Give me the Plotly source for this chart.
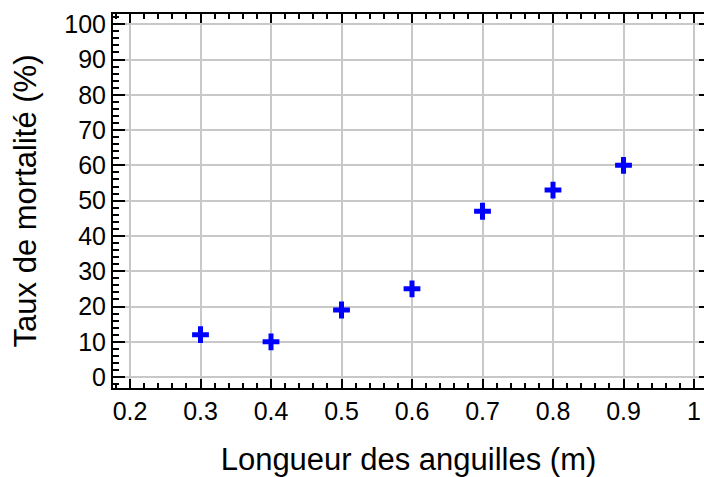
import plotly.graph_objects as go

longueur = [0.3, 0.4, 0.5, 0.6, 0.7, 0.8, 0.9]
mortalite = [12, 10, 19, 25, 47, 53, 60]

FONT = "Liberation Sans, Arial, sans-serif"
GRID = "#c8c8c8"

fig = go.Figure()
fig.add_trace(go.Scatter(
    x=longueur, y=mortalite, mode="markers",
    marker=dict(symbol="cross-thin", size=12, line=dict(width=5, color="#0000ff"), color="#0000ff"),
    showlegend=False,
))
# invisible trace to drive right-side tick axis
fig.add_trace(go.Scatter(x=[0.5], y=[50], yaxis="y2", mode="markers",
                         marker=dict(opacity=0), showlegend=False, hoverinfo="skip"))

xr = [0.2 - 17/705, 1 + 10/705]
yr = [-3.1, 102.9]

fig.update_layout(
    width=704, height=477,
    margin=dict(l=113, r=0, t=14, b=89),
    paper_bgcolor="white", plot_bgcolor="white",
    font=dict(family=FONT, size=25, color="black"),
    xaxis=dict(
        range=xr, tickvals=[0.2, 0.3, 0.4, 0.5, 0.6, 0.7, 0.8, 0.9, 1.0],
        ticktext=["0.2", "0.3", "0.4", "0.5", "0.6", "0.7", "0.8", "0.9", "1"],
        showgrid=True, gridcolor=GRID, gridwidth=1.5,
        showline=True, linecolor="black", linewidth=2, mirror="ticks",
        ticks="inside", ticklen=9, tickwidth=1.5, tickcolor="black",
        minor=dict(dtick=0.02, tick0=0.2, ticks="inside", ticklen=5, tickwidth=1.5, tickcolor="black", showgrid=False),
        zeroline=False,
        title=dict(text="Longueur des anguilles (m)", font=dict(size=31), standoff=26),
    ),
    yaxis=dict(
        range=yr, tickvals=list(range(0, 101, 10)),
        showgrid=True, gridcolor=GRID, gridwidth=1.5,
        showline=True, linecolor="black", linewidth=2, mirror=False,
        ticks="inside", ticklen=12, tickwidth=1.5, tickcolor="black",
        minor=dict(dtick=2, tick0=0, ticks="inside", ticklen=6, tickwidth=1.5, tickcolor="black", showgrid=False),
        zeroline=False,
        title=dict(text="Taux de mortalité (%)", font=dict(size=31), standoff=18),
    ),
    yaxis2=dict(
        range=yr, overlaying="y", side="right", tickvals=list(range(0, 101, 10)),
        showticklabels=False, showgrid=False, showline=False, zeroline=False,
        ticks="inside", ticklen=5, tickwidth=2, tickcolor="black",
    ),
)

fig.write_html("out.html")
